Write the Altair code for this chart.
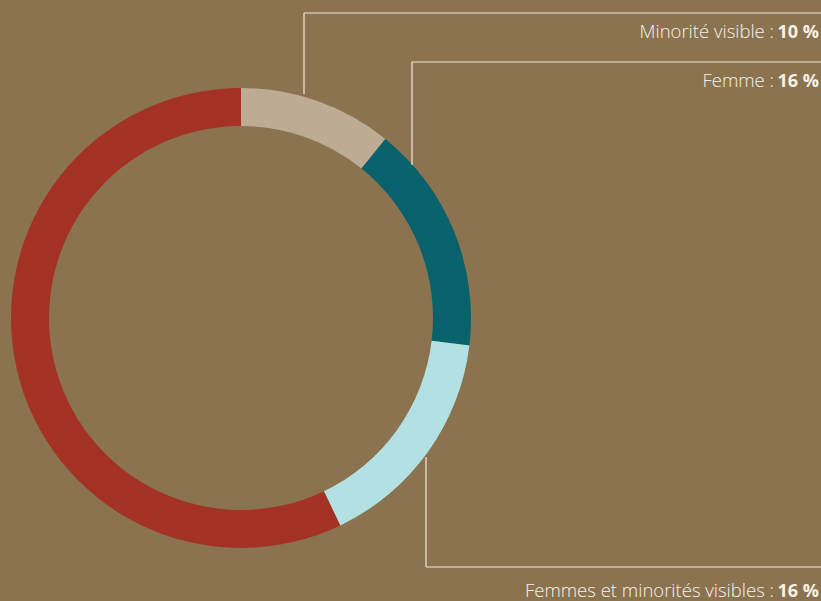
import altair as alt
import pandas as pd

categories = ["Minorité visible", "Femme", "Femmes et minorités visibles", "Autres"]
values = [10.8, 16.1, 16.0, 57.1]
colors = ["#BDAC93", "#08626C", "#B3E0E2", "#A33224"]
label_names = ["Minorité visible :", "Femme :", "Femmes et minorités visibles :"]
label_values = ["10 %", "16 %", "16 %"]

BG = "#8B7350"
LINE = "#EFE9DF"
TXT = "#F6F2EA"

df = pd.DataFrame({"cat": categories, "val": values, "order": list(range(len(categories)))})

cx, cy = 241, 318

donut = alt.Chart(df).mark_arc(radius=230, radius2=192, stroke=None).encode(
    theta=alt.Theta("val:Q", stack=True),
    order=alt.Order("order:Q"),
    color=alt.Color("cat:N", scale=alt.Scale(domain=categories, range=colors), legend=None),
    x=alt.value(cx),
    y=alt.value(cy),
)

dummy = pd.DataFrame({"a": [0]})

def rule(x, y, x2=None, y2=None):
    enc = dict(x=alt.value(x), y=alt.value(y))
    if x2 is not None:
        enc["x2"] = alt.value(x2)
    if y2 is not None:
        enc["y2"] = alt.value(y2)
    return alt.Chart(dummy).mark_rule(color=LINE, strokeWidth=1.2).encode(**enc)

lines = [
    rule(304, 13, y2=94),
    rule(304, 13, x2=821),
    rule(412, 62, y2=165),
    rule(412, 62, x2=821),
    rule(426, 457, y2=567),
    rule(426, 567, x2=821),
]

baselines = [38, 87, 597]
texts = []
for name, val, yb in zip(label_names, label_values, baselines):
    texts.append(
        alt.Chart(pd.DataFrame({"t": [name]})).mark_text(
            align="right", baseline="alphabetic", font="Open Sans", fontSize=18.5,
            fontWeight=300, color=TXT,
        ).encode(text="t:N", x=alt.value(774), y=alt.value(yb))
    )
    texts.append(
        alt.Chart(pd.DataFrame({"t": [val]})).mark_text(
            align="right", baseline="alphabetic", font="Open Sans", fontSize=18,
            fontWeight="bold", color=TXT,
        ).encode(text="t:N", x=alt.value(819), y=alt.value(yb))
    )

chart = alt.layer(donut, *lines, *texts).properties(
    width=821, height=601, padding=0, autosize=alt.AutoSizeParams(type="none"),
    background=BG,
).configure_view(stroke=None)

chart.save("out.html", embed_options={"renderer": "svg", "actions": False})
